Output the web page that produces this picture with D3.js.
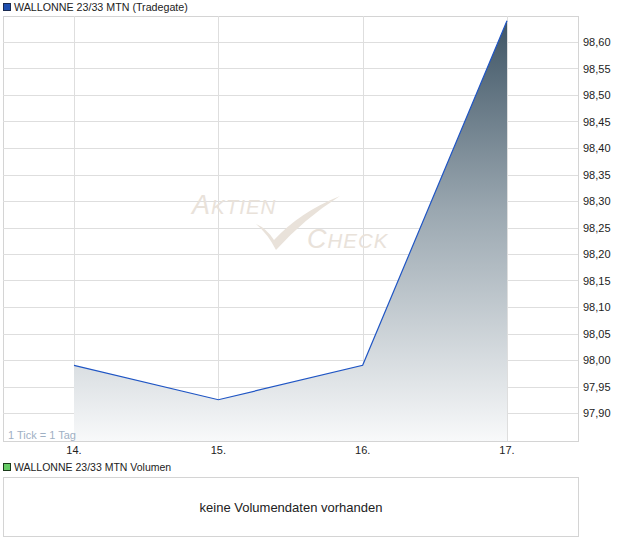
<!DOCTYPE html>
<html>
<head>
<meta charset="utf-8">
<script src="https://cdn.jsdelivr.net/npm/d3@7"></script>
<style>
  body { margin: 0; background: #fff; }
  svg { font-family: "Liberation Sans", Arial, sans-serif; }
</style>
</head>
<body>
<svg id="chart" width="620" height="546"></svg>
<script>
// data
const days = [14, 15, 16, 17];
const prices = [97.99, 97.925, 97.99, 98.64];
const yTicks = [97.90, 97.95, 98.00, 98.05, 98.10, 98.15, 98.20, 98.25, 98.30, 98.35, 98.40, 98.45, 98.50, 98.55, 98.60];
const title = 'WALLONNE 23/33 MTN (Tradegate)';
const volumeTitle = 'WALLONNE 23/33 MTN Volumen';
const volumeNote = 'keine Volumendaten vorhanden';

const svg = d3.select('#chart');
const plot = { left: 3, right: 578, top: 16, bottom: 441 };

// x: day 14 at px 74, 144.33 px per day
const x = d3.scaleLinear()
  .domain([14 - (74 - 3) / 144.33, 17 + (578 - 507) / 144.33])
  .range([plot.left, plot.right]);
const y = d3.scaleLinear().domain([97.90, 98.60]).range([413, 42]);

// gradient
const defs = svg.append('defs');
const grad = defs.append('linearGradient')
  .attr('id', 'areaGrad')
  .attr('x1', 0).attr('y1', 0).attr('x2', 0).attr('y2', 1);
grad.append('stop').attr('offset', '0%').attr('stop-color', '#3f5565');
grad.append('stop').attr('offset', '45%').attr('stop-color', '#9aa7b0');
grad.append('stop').attr('offset', '100%').attr('stop-color', '#f8f9fa');

// legend
svg.append('rect')
  .attr('x', 3.5).attr('y', 3.5).attr('width', 7).attr('height', 7)
  .attr('fill', '#1f4fb0').attr('stroke', '#1a2a50');
svg.append('text')
  .attr('x', 14).attr('y', 10.5)
  .attr('font-size', 10.7).attr('fill', '#222')
  .text(title);

// frame + grid
svg.append('rect')
  .attr('x', plot.left + 0.5).attr('y', plot.top + 0.5)
  .attr('width', plot.right - plot.left).attr('height', plot.bottom - plot.top)
  .attr('fill', '#fff').attr('stroke', '#d4d4d4');

svg.append('g')
  .selectAll('line')
  .data(yTicks)
  .join('line')
  .attr('x1', plot.left).attr('x2', plot.right)
  .attr('y1', (d) => Math.round(y(d)) + 0.5)
  .attr('y2', (d) => Math.round(y(d)) + 0.5)
  .attr('stroke', '#dedede');

svg.append('g')
  .selectAll('line')
  .data(days)
  .join('line')
  .attr('x1', (d) => Math.round(x(d)) + 0.5)
  .attr('x2', (d) => Math.round(x(d)) + 0.5)
  .attr('y1', plot.top).attr('y2', plot.bottom)
  .attr('stroke', '#dedede');

// watermark
const wm = svg.append('g').attr('fill', '#e9e2da').attr('font-style', 'italic');
const t1 = wm.append('text').attr('x', 192).attr('y', 214).attr('letter-spacing', 1);
t1.append('tspan').attr('font-size', 27).text('A');
t1.append('tspan').attr('font-size', 20.5).text('KTIEN');
const t2 = wm.append('text').attr('x', 307).attr('y', 248).attr('letter-spacing', 1);
t2.append('tspan').attr('font-size', 27).text('C');
t2.append('tspan').attr('font-size', 20.5).text('HECK');
wm.append('path')
  .attr('d', 'M256,224 Q266,228 274,240 Q300,212 340,196 Q305,218 276,250 Q268,234 256,224 Z');

// area + line
const pts = days.map((d, i) => ({ d, v: prices[i] }));
const area = d3.area()
  .x((p) => x(p.d))
  .y0(plot.bottom)
  .y1((p) => y(p.v));
svg.append('path')
  .datum(pts)
  .attr('d', area)
  .attr('fill', 'url(#areaGrad)');

const line = d3.line()
  .x((p) => x(p.d))
  .y((p) => y(p.v));
svg.append('path')
  .datum(pts)
  .attr('d', line)
  .attr('fill', 'none')
  .attr('stroke', '#1f55c4')
  .attr('stroke-width', 1.2);

// tick note
svg.append('text')
  .attr('x', 8).attr('y', 439)
  .attr('font-size', 11).attr('fill', '#9fb0c4')
  .text('1 Tick = 1 Tag');

// y labels
svg.append('g')
  .selectAll('text')
  .data(yTicks)
  .join('text')
  .attr('x', 583)
  .attr('y', (d) => y(d) + 4)
  .attr('font-size', 11).attr('fill', '#222')
  .text((d) => d3.format('.2f')(d).replace('.', ','));

// x labels
svg.append('g')
  .selectAll('text')
  .data(days)
  .join('text')
  .attr('x', (d) => x(d))
  .attr('y', 454)
  .attr('text-anchor', 'middle')
  .attr('font-size', 11).attr('fill', '#222')
  .text((d) => d + '.');

// volume panel
svg.append('rect')
  .attr('x', 3.5).attr('y', 463.5).attr('width', 7).attr('height', 7)
  .attr('fill', '#66cc66').attr('stroke', '#1a3a1a');
svg.append('text')
  .attr('x', 14).attr('y', 471)
  .attr('font-size', 10.5).attr('fill', '#222')
  .text(volumeTitle);
svg.append('rect')
  .attr('x', 3.5).attr('y', 477.5).attr('width', 575).attr('height', 59)
  .attr('fill', '#fff').attr('stroke', '#d4d4d4');
svg.append('text')
  .attr('x', 291).attr('y', 512)
  .attr('text-anchor', 'middle')
  .attr('font-size', 13).attr('fill', '#222')
  .text(volumeNote);
</script>
</body>
</html>
